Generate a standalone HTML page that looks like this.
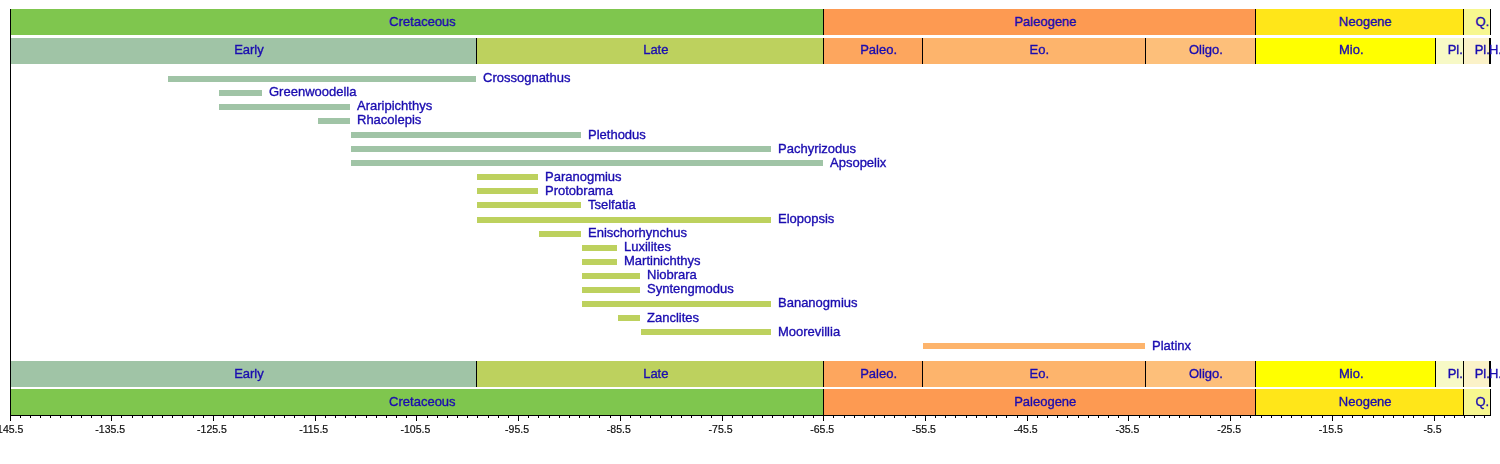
<!DOCTYPE html>
<html><head><meta charset="utf-8"><style>
html,body{margin:0;padding:0;background:#fff;}
body{width:1500px;height:464px;position:relative;overflow:hidden;font-family:"Liberation Sans",sans-serif;}
#w{position:absolute;left:0;top:0;width:1500px;height:464px;filter:blur(0.4px);}
.r{position:absolute;}
.t{position:absolute;font-size:13px;line-height:13px;color:#1a0cb0;white-space:nowrap;-webkit-text-stroke:0.35px #1a0cb0;}
.c{position:absolute;left:0;top:0;transform:translateX(-50%);}
.l{position:absolute;background:#000;width:1px;}
.a{position:absolute;font-size:10.5px;line-height:10px;color:#111;white-space:nowrap;width:0;-webkit-text-stroke:0.2px #111;}
</style></head><body><div id="w">

<div class="r" style="left:10px;top:9px;width:813px;height:26px;background:#7fc64e"></div>
<div class="r" style="left:823px;top:9px;width:432px;height:26px;background:#fd9a52"></div>
<div class="r" style="left:1255px;top:9px;width:208px;height:26px;background:#ffe619"></div>
<div class="r" style="left:1463px;top:9px;width:27px;height:26px;background:#f7f78f"></div>
<div class="l" style="left:823px;top:9px;height:26px"></div>
<div class="l" style="left:1255px;top:9px;height:26px"></div>
<div class="l" style="left:1463px;top:9px;height:26px"></div>
<div class="l" style="left:1490px;top:9px;height:26px"></div>
<div class="t" style="left:422.37px;top:15px;width:0"><span class="c">Cretaceous</span></div>
<div class="t" style="left:1045.24px;top:15px;width:0"><span class="c">Paleogene</span></div>
<div class="t" style="left:1365.21px;top:15px;width:0"><span class="c">Neogene</span></div>
<div class="t" style="left:1482.34px;top:15px;width:0"><span class="c">Q.</span></div>
<div class="r" style="left:10px;top:38px;width:466px;height:26px;background:#a0c4a6"></div>
<div class="r" style="left:476px;top:38px;width:347px;height:26px;background:#bdd15e"></div>
<div class="r" style="left:823px;top:38px;width:99px;height:26px;background:#fda65e"></div>
<div class="r" style="left:922px;top:38px;width:223px;height:26px;background:#fdb46c"></div>
<div class="r" style="left:1145px;top:38px;width:110px;height:26px;background:#fdbf7a"></div>
<div class="r" style="left:1255px;top:38px;width:180px;height:26px;background:#ffff00"></div>
<div class="r" style="left:1435px;top:38px;width:28px;height:26px;background:#f7f9c6"></div>
<div class="r" style="left:1463px;top:38px;width:26px;height:26px;background:#fbf2c8"></div>
<div class="r" style="left:1489px;top:38px;width:1px;height:26px;background:#fef2e0"></div>
<div class="l" style="left:476px;top:38px;height:26px"></div>
<div class="l" style="left:823px;top:38px;height:26px"></div>
<div class="l" style="left:922px;top:38px;height:26px"></div>
<div class="l" style="left:1145px;top:38px;height:26px"></div>
<div class="l" style="left:1255px;top:38px;height:26px"></div>
<div class="l" style="left:1435px;top:38px;height:26px"></div>
<div class="l" style="left:1463px;top:38px;height:26px"></div>
<div class="l" style="left:1489px;top:38px;height:26px"></div>
<div class="l" style="left:1490px;top:38px;height:26px"></div>
<div class="t" style="left:248.94px;top:43px;width:0"><span class="c">Early</span></div>
<div class="t" style="left:655.82px;top:43px;width:0"><span class="c">Late</span></div>
<div class="t" style="left:878.58px;top:43px;width:0"><span class="c">Paleo.</span></div>
<div class="t" style="left:1039.29px;top:43px;width:0"><span class="c">Eo.</span></div>
<div class="t" style="left:1205.96px;top:43px;width:0"><span class="c">Oligo.</span></div>
<div class="t" style="left:1351.25px;top:43px;width:0"><span class="c">Mio.</span></div>
<div class="t" style="left:1455.22px;top:43px;width:0"><span class="c">Pl.</span></div>
<div class="t" style="left:1482.28px;top:43px;width:0"><span class="c">Pl.</span></div>
<div class="t" style="left:1495.44px;top:43px;width:0"><span class="c">H.</span></div>
<div class="r" style="left:10px;top:361px;width:466px;height:26px;background:#a0c4a6"></div>
<div class="r" style="left:476px;top:361px;width:347px;height:26px;background:#bdd15e"></div>
<div class="r" style="left:823px;top:361px;width:99px;height:26px;background:#fda65e"></div>
<div class="r" style="left:922px;top:361px;width:223px;height:26px;background:#fdb46c"></div>
<div class="r" style="left:1145px;top:361px;width:110px;height:26px;background:#fdbf7a"></div>
<div class="r" style="left:1255px;top:361px;width:180px;height:26px;background:#ffff00"></div>
<div class="r" style="left:1435px;top:361px;width:28px;height:26px;background:#f7f9c6"></div>
<div class="r" style="left:1463px;top:361px;width:26px;height:26px;background:#fbf2c8"></div>
<div class="r" style="left:1489px;top:361px;width:1px;height:26px;background:#fef2e0"></div>
<div class="l" style="left:476px;top:361px;height:26px"></div>
<div class="l" style="left:823px;top:361px;height:26px"></div>
<div class="l" style="left:922px;top:361px;height:26px"></div>
<div class="l" style="left:1145px;top:361px;height:26px"></div>
<div class="l" style="left:1255px;top:361px;height:26px"></div>
<div class="l" style="left:1435px;top:361px;height:26px"></div>
<div class="l" style="left:1463px;top:361px;height:26px"></div>
<div class="l" style="left:1489px;top:361px;height:26px"></div>
<div class="l" style="left:1490px;top:361px;height:26px"></div>
<div class="t" style="left:248.94px;top:367px;width:0"><span class="c">Early</span></div>
<div class="t" style="left:655.82px;top:367px;width:0"><span class="c">Late</span></div>
<div class="t" style="left:878.58px;top:367px;width:0"><span class="c">Paleo.</span></div>
<div class="t" style="left:1039.29px;top:367px;width:0"><span class="c">Eo.</span></div>
<div class="t" style="left:1205.96px;top:367px;width:0"><span class="c">Oligo.</span></div>
<div class="t" style="left:1351.25px;top:367px;width:0"><span class="c">Mio.</span></div>
<div class="t" style="left:1455.22px;top:367px;width:0"><span class="c">Pl.</span></div>
<div class="t" style="left:1482.28px;top:367px;width:0"><span class="c">Pl.</span></div>
<div class="t" style="left:1495.44px;top:367px;width:0"><span class="c">H.</span></div>
<div class="r" style="left:10px;top:389px;width:813px;height:26px;background:#7fc64e"></div>
<div class="r" style="left:823px;top:389px;width:432px;height:26px;background:#fd9a52"></div>
<div class="r" style="left:1255px;top:389px;width:208px;height:26px;background:#ffe619"></div>
<div class="r" style="left:1463px;top:389px;width:27px;height:26px;background:#f7f78f"></div>
<div class="l" style="left:823px;top:389px;height:26px"></div>
<div class="l" style="left:1255px;top:389px;height:26px"></div>
<div class="l" style="left:1463px;top:389px;height:26px"></div>
<div class="l" style="left:1490px;top:389px;height:26px"></div>
<div class="t" style="left:422.37px;top:395px;width:0"><span class="c">Cretaceous</span></div>
<div class="t" style="left:1045.24px;top:395px;width:0"><span class="c">Paleogene</span></div>
<div class="t" style="left:1365.21px;top:395px;width:0"><span class="c">Neogene</span></div>
<div class="t" style="left:1482.34px;top:395px;width:0"><span class="c">Q.</span></div>
<div class="r" style="left:168px;top:76px;width:308px;height:6px;background:#a0c4a6"></div>
<div class="t" style="left:483px;top:71px">Crossognathus</div>
<div class="r" style="left:219px;top:90px;width:43px;height:6px;background:#a0c4a6"></div>
<div class="t" style="left:269px;top:85px">Greenwoodella</div>
<div class="r" style="left:219px;top:104px;width:131px;height:6px;background:#a0c4a6"></div>
<div class="t" style="left:357px;top:99px">Araripichthys</div>
<div class="r" style="left:318px;top:118px;width:32px;height:6px;background:#a0c4a6"></div>
<div class="t" style="left:357px;top:113px">Rhacolepis</div>
<div class="r" style="left:351px;top:132px;width:230px;height:6px;background:#a0c4a6"></div>
<div class="t" style="left:588px;top:128px">Plethodus</div>
<div class="r" style="left:351px;top:146px;width:420px;height:6px;background:#a0c4a6"></div>
<div class="t" style="left:778px;top:142px">Pachyrizodus</div>
<div class="r" style="left:351px;top:160px;width:472px;height:6px;background:#a0c4a6"></div>
<div class="t" style="left:830px;top:156px">Apsopelix</div>
<div class="r" style="left:477px;top:174px;width:61px;height:6px;background:#bdd15e"></div>
<div class="t" style="left:545px;top:170px">Paranogmius</div>
<div class="r" style="left:477px;top:188px;width:61px;height:6px;background:#bdd15e"></div>
<div class="t" style="left:545px;top:184px">Protobrama</div>
<div class="r" style="left:477px;top:202px;width:104px;height:6px;background:#bdd15e"></div>
<div class="t" style="left:588px;top:198px">Tselfatia</div>
<div class="r" style="left:477px;top:217px;width:294px;height:6px;background:#bdd15e"></div>
<div class="t" style="left:778px;top:212px">Elopopsis</div>
<div class="r" style="left:539px;top:231px;width:42px;height:6px;background:#bdd15e"></div>
<div class="t" style="left:588px;top:226px">Enischorhynchus</div>
<div class="r" style="left:582px;top:245px;width:35px;height:6px;background:#bdd15e"></div>
<div class="t" style="left:624px;top:240px">Luxilites</div>
<div class="r" style="left:582px;top:259px;width:35px;height:6px;background:#bdd15e"></div>
<div class="t" style="left:624px;top:254px">Martinichthys</div>
<div class="r" style="left:582px;top:273px;width:58px;height:6px;background:#bdd15e"></div>
<div class="t" style="left:647px;top:268px">Niobrara</div>
<div class="r" style="left:582px;top:287px;width:58px;height:6px;background:#bdd15e"></div>
<div class="t" style="left:647px;top:282px">Syntengmodus</div>
<div class="r" style="left:582px;top:301px;width:189px;height:6px;background:#bdd15e"></div>
<div class="t" style="left:778px;top:296px">Bananogmius</div>
<div class="r" style="left:618px;top:315px;width:22px;height:6px;background:#bdd15e"></div>
<div class="t" style="left:647px;top:311px">Zanclites</div>
<div class="r" style="left:641px;top:329px;width:130px;height:6px;background:#bdd15e"></div>
<div class="t" style="left:778px;top:325px">Moorevillia</div>
<div class="r" style="left:923px;top:343px;width:222px;height:6px;background:#fdb46c"></div>
<div class="t" style="left:1152px;top:339px">Platinx</div>
<div class="l" style="left:10px;top:9px;height:407px"></div>
<div class="r" style="left:10px;top:415px;width:1481px;height:1px;background:#000"></div>
<div class="l" style="left:10px;top:416px;height:5px"></div>
<div class="a" style="left:8.50px;top:423.5px"><span class="c">-145.5</span></div>
<div class="l" style="left:20px;top:416px;height:2px"></div>
<div class="l" style="left:30px;top:416px;height:2px"></div>
<div class="l" style="left:40px;top:416px;height:2px"></div>
<div class="l" style="left:50px;top:416px;height:2px"></div>
<div class="l" style="left:60px;top:416px;height:2px"></div>
<div class="l" style="left:71px;top:416px;height:2px"></div>
<div class="l" style="left:81px;top:416px;height:2px"></div>
<div class="l" style="left:91px;top:416px;height:2px"></div>
<div class="l" style="left:101px;top:416px;height:2px"></div>
<div class="l" style="left:111px;top:416px;height:5px"></div>
<div class="a" style="left:110.22px;top:423.5px"><span class="c">-135.5</span></div>
<div class="l" style="left:121px;top:416px;height:2px"></div>
<div class="l" style="left:132px;top:416px;height:2px"></div>
<div class="l" style="left:142px;top:416px;height:2px"></div>
<div class="l" style="left:152px;top:416px;height:2px"></div>
<div class="l" style="left:162px;top:416px;height:2px"></div>
<div class="l" style="left:172px;top:416px;height:2px"></div>
<div class="l" style="left:182px;top:416px;height:2px"></div>
<div class="l" style="left:193px;top:416px;height:2px"></div>
<div class="l" style="left:203px;top:416px;height:2px"></div>
<div class="l" style="left:213px;top:416px;height:5px"></div>
<div class="a" style="left:211.94px;top:423.5px"><span class="c">-125.5</span></div>
<div class="l" style="left:223px;top:416px;height:2px"></div>
<div class="l" style="left:233px;top:416px;height:2px"></div>
<div class="l" style="left:243px;top:416px;height:2px"></div>
<div class="l" style="left:254px;top:416px;height:2px"></div>
<div class="l" style="left:264px;top:416px;height:2px"></div>
<div class="l" style="left:274px;top:416px;height:2px"></div>
<div class="l" style="left:284px;top:416px;height:2px"></div>
<div class="l" style="left:294px;top:416px;height:2px"></div>
<div class="l" style="left:304px;top:416px;height:2px"></div>
<div class="l" style="left:315px;top:416px;height:5px"></div>
<div class="a" style="left:313.65px;top:423.5px"><span class="c">-115.5</span></div>
<div class="l" style="left:325px;top:416px;height:2px"></div>
<div class="l" style="left:335px;top:416px;height:2px"></div>
<div class="l" style="left:345px;top:416px;height:2px"></div>
<div class="l" style="left:355px;top:416px;height:2px"></div>
<div class="l" style="left:366px;top:416px;height:2px"></div>
<div class="l" style="left:376px;top:416px;height:2px"></div>
<div class="l" style="left:386px;top:416px;height:2px"></div>
<div class="l" style="left:396px;top:416px;height:2px"></div>
<div class="l" style="left:406px;top:416px;height:2px"></div>
<div class="l" style="left:416px;top:416px;height:5px"></div>
<div class="a" style="left:415.37px;top:423.5px"><span class="c">-105.5</span></div>
<div class="l" style="left:427px;top:416px;height:2px"></div>
<div class="l" style="left:437px;top:416px;height:2px"></div>
<div class="l" style="left:447px;top:416px;height:2px"></div>
<div class="l" style="left:457px;top:416px;height:2px"></div>
<div class="l" style="left:467px;top:416px;height:2px"></div>
<div class="l" style="left:477px;top:416px;height:2px"></div>
<div class="l" style="left:488px;top:416px;height:2px"></div>
<div class="l" style="left:498px;top:416px;height:2px"></div>
<div class="l" style="left:508px;top:416px;height:2px"></div>
<div class="l" style="left:518px;top:416px;height:5px"></div>
<div class="a" style="left:517.09px;top:423.5px"><span class="c">-95.5</span></div>
<div class="l" style="left:528px;top:416px;height:2px"></div>
<div class="l" style="left:538px;top:416px;height:2px"></div>
<div class="l" style="left:549px;top:416px;height:2px"></div>
<div class="l" style="left:559px;top:416px;height:2px"></div>
<div class="l" style="left:569px;top:416px;height:2px"></div>
<div class="l" style="left:579px;top:416px;height:2px"></div>
<div class="l" style="left:589px;top:416px;height:2px"></div>
<div class="l" style="left:599px;top:416px;height:2px"></div>
<div class="l" style="left:610px;top:416px;height:2px"></div>
<div class="l" style="left:620px;top:416px;height:5px"></div>
<div class="a" style="left:618.81px;top:423.5px"><span class="c">-85.5</span></div>
<div class="l" style="left:630px;top:416px;height:2px"></div>
<div class="l" style="left:640px;top:416px;height:2px"></div>
<div class="l" style="left:650px;top:416px;height:2px"></div>
<div class="l" style="left:660px;top:416px;height:2px"></div>
<div class="l" style="left:671px;top:416px;height:2px"></div>
<div class="l" style="left:681px;top:416px;height:2px"></div>
<div class="l" style="left:691px;top:416px;height:2px"></div>
<div class="l" style="left:701px;top:416px;height:2px"></div>
<div class="l" style="left:711px;top:416px;height:2px"></div>
<div class="l" style="left:722px;top:416px;height:5px"></div>
<div class="a" style="left:720.53px;top:423.5px"><span class="c">-75.5</span></div>
<div class="l" style="left:732px;top:416px;height:2px"></div>
<div class="l" style="left:742px;top:416px;height:2px"></div>
<div class="l" style="left:752px;top:416px;height:2px"></div>
<div class="l" style="left:762px;top:416px;height:2px"></div>
<div class="l" style="left:772px;top:416px;height:2px"></div>
<div class="l" style="left:783px;top:416px;height:2px"></div>
<div class="l" style="left:793px;top:416px;height:2px"></div>
<div class="l" style="left:803px;top:416px;height:2px"></div>
<div class="l" style="left:813px;top:416px;height:2px"></div>
<div class="l" style="left:823px;top:416px;height:5px"></div>
<div class="a" style="left:822.25px;top:423.5px"><span class="c">-65.5</span></div>
<div class="l" style="left:833px;top:416px;height:2px"></div>
<div class="l" style="left:844px;top:416px;height:2px"></div>
<div class="l" style="left:854px;top:416px;height:2px"></div>
<div class="l" style="left:864px;top:416px;height:2px"></div>
<div class="l" style="left:874px;top:416px;height:2px"></div>
<div class="l" style="left:884px;top:416px;height:2px"></div>
<div class="l" style="left:894px;top:416px;height:2px"></div>
<div class="l" style="left:905px;top:416px;height:2px"></div>
<div class="l" style="left:915px;top:416px;height:2px"></div>
<div class="l" style="left:925px;top:416px;height:5px"></div>
<div class="a" style="left:923.96px;top:423.5px"><span class="c">-55.5</span></div>
<div class="l" style="left:935px;top:416px;height:2px"></div>
<div class="l" style="left:945px;top:416px;height:2px"></div>
<div class="l" style="left:955px;top:416px;height:2px"></div>
<div class="l" style="left:966px;top:416px;height:2px"></div>
<div class="l" style="left:976px;top:416px;height:2px"></div>
<div class="l" style="left:986px;top:416px;height:2px"></div>
<div class="l" style="left:996px;top:416px;height:2px"></div>
<div class="l" style="left:1006px;top:416px;height:2px"></div>
<div class="l" style="left:1017px;top:416px;height:2px"></div>
<div class="l" style="left:1027px;top:416px;height:5px"></div>
<div class="a" style="left:1025.68px;top:423.5px"><span class="c">-45.5</span></div>
<div class="l" style="left:1037px;top:416px;height:2px"></div>
<div class="l" style="left:1047px;top:416px;height:2px"></div>
<div class="l" style="left:1057px;top:416px;height:2px"></div>
<div class="l" style="left:1067px;top:416px;height:2px"></div>
<div class="l" style="left:1078px;top:416px;height:2px"></div>
<div class="l" style="left:1088px;top:416px;height:2px"></div>
<div class="l" style="left:1098px;top:416px;height:2px"></div>
<div class="l" style="left:1108px;top:416px;height:2px"></div>
<div class="l" style="left:1118px;top:416px;height:2px"></div>
<div class="l" style="left:1128px;top:416px;height:5px"></div>
<div class="a" style="left:1127.40px;top:423.5px"><span class="c">-35.5</span></div>
<div class="l" style="left:1139px;top:416px;height:2px"></div>
<div class="l" style="left:1149px;top:416px;height:2px"></div>
<div class="l" style="left:1159px;top:416px;height:2px"></div>
<div class="l" style="left:1169px;top:416px;height:2px"></div>
<div class="l" style="left:1179px;top:416px;height:2px"></div>
<div class="l" style="left:1189px;top:416px;height:2px"></div>
<div class="l" style="left:1200px;top:416px;height:2px"></div>
<div class="l" style="left:1210px;top:416px;height:2px"></div>
<div class="l" style="left:1220px;top:416px;height:2px"></div>
<div class="l" style="left:1230px;top:416px;height:5px"></div>
<div class="a" style="left:1229.12px;top:423.5px"><span class="c">-25.5</span></div>
<div class="l" style="left:1240px;top:416px;height:2px"></div>
<div class="l" style="left:1250px;top:416px;height:2px"></div>
<div class="l" style="left:1261px;top:416px;height:2px"></div>
<div class="l" style="left:1271px;top:416px;height:2px"></div>
<div class="l" style="left:1281px;top:416px;height:2px"></div>
<div class="l" style="left:1291px;top:416px;height:2px"></div>
<div class="l" style="left:1301px;top:416px;height:2px"></div>
<div class="l" style="left:1311px;top:416px;height:2px"></div>
<div class="l" style="left:1322px;top:416px;height:2px"></div>
<div class="l" style="left:1332px;top:416px;height:5px"></div>
<div class="a" style="left:1330.84px;top:423.5px"><span class="c">-15.5</span></div>
<div class="l" style="left:1342px;top:416px;height:2px"></div>
<div class="l" style="left:1352px;top:416px;height:2px"></div>
<div class="l" style="left:1362px;top:416px;height:2px"></div>
<div class="l" style="left:1373px;top:416px;height:2px"></div>
<div class="l" style="left:1383px;top:416px;height:2px"></div>
<div class="l" style="left:1393px;top:416px;height:2px"></div>
<div class="l" style="left:1403px;top:416px;height:2px"></div>
<div class="l" style="left:1413px;top:416px;height:2px"></div>
<div class="l" style="left:1423px;top:416px;height:2px"></div>
<div class="l" style="left:1434px;top:416px;height:5px"></div>
<div class="a" style="left:1432.55px;top:423.5px"><span class="c">-5.5</span></div>
<div class="l" style="left:1444px;top:416px;height:2px"></div>
<div class="l" style="left:1454px;top:416px;height:2px"></div>
<div class="l" style="left:1464px;top:416px;height:2px"></div>
<div class="l" style="left:1474px;top:416px;height:2px"></div>
<div class="l" style="left:1484px;top:416px;height:2px"></div>
</div></body></html>
